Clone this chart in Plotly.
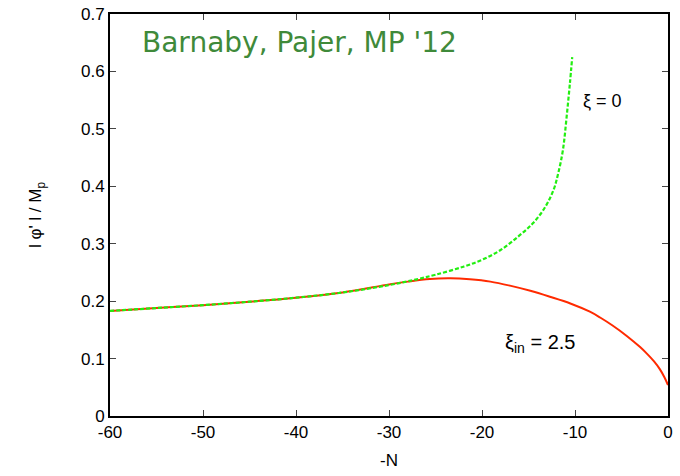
import plotly.graph_objects as go

# xi = 0 curve (green dashed)
n_xi0 = [-60, -55, -50, -45, -40, -35, -30, -27, -25, -22, -20, -18, -16, -14.5, -13.2, -12.3, -11.8, -11.3, -10.9, -10.55, -10.3]
phi_xi0 = [0.183, 0.188, 0.193, 0.199, 0.206, 0.215, 0.228, 0.238, 0.246, 0.260, 0.272, 0.289, 0.314, 0.336, 0.364, 0.394, 0.423, 0.463, 0.521, 0.579, 0.625]

# xi_in = 2.5 curve (red solid)
n_xi25 = [-60, -55, -50, -45, -40, -35, -30, -28, -25.6, -23.4, -21.3, -19.1, -17, -14.8, -12.7, -10.5, -8.4, -7.3, -6, -4.4, -3, -2.3, -1.5, -0.9, -0.4, 0]
phi_xi25 = [0.183, 0.188, 0.193, 0.199, 0.206, 0.215, 0.229, 0.234, 0.2386, 0.2397, 0.238, 0.234, 0.227, 0.218, 0.2077, 0.196, 0.1816, 0.1715, 0.158, 0.139, 0.120, 0.109, 0.095, 0.082, 0.068, 0.054]

x_ticks = [-60, -50, -40, -30, -20, -10, 0]
y_ticks = [0, 0.1, 0.2, 0.3, 0.4, 0.5, 0.6, 0.7]

fig = go.Figure()
fig.add_trace(go.Scatter(x=n_xi25, y=phi_xi25, mode="lines", line=dict(color="#ff2a00", width=2, shape="spline", smoothing=1), showlegend=False))
fig.add_trace(go.Scatter(x=n_xi0, y=phi_xi0, mode="lines", line=dict(color="#22ee11", width=2.2, dash="4px,2px", shape="spline", smoothing=1), showlegend=False))

font = "Liberation Sans, Arial, sans-serif"
axis_common = dict(showgrid=False, zeroline=False, showline=True, linecolor="black", linewidth=2,
                   mirror="ticks", ticks="inside", ticklen=6, tickcolor="#444", tickwidth=1,
                   automargin=False, tickfont=dict(family=font, size=17, color="black"))

fig.update_xaxes(range=[-60, 0], tickvals=x_ticks, ticktext=[str(v) for v in x_ticks],
                 title=dict(text="-N", font=dict(family=font, size=17, color="black"), standoff=13), **axis_common)
fig.update_yaxes(range=[0, 0.7], tickvals=y_ticks, ticktext=["0"] + [f"{v:.1f}" for v in y_ticks[1:]],
                 title=dict(text="l φ' l / M<sub>p</sub>", font=dict(family=font, size=17, color="black"), standoff=35), **axis_common)

fig.add_annotation(x=-60, y=0.7, xref="x", yref="y", text="Barnaby, Pajer, MP '12", showarrow=False,
                   xanchor="left", yanchor="top", xshift=30, yshift=-10,
                   font=dict(family="DejaVu Sans, sans-serif", size=28, color="#3f8a3a"))
fig.add_annotation(x=-9.35, y=0.548, text="ξ = 0", showarrow=False, xanchor="left",
                   font=dict(family=font, size=18, color="black"))
fig.add_annotation(x=-17.74, y=0.127, text="ξ<sub>in</sub> = 2.5", showarrow=False, xanchor="left",
                   font=dict(family=font, size=20, color="black"))

fig.update_layout(width=680, height=476, margin=dict(l=110, r=12, t=14, b=60),
                  paper_bgcolor="white", plot_bgcolor="white")
fig.write_html("out.html")
